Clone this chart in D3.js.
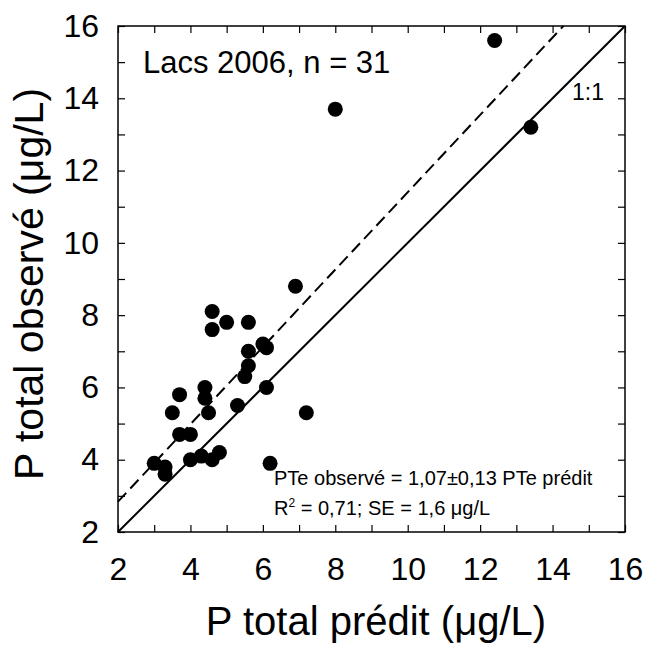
<!DOCTYPE html>
<html><head><meta charset="utf-8">
<script src="https://cdn.jsdelivr.net/npm/d3@7"></script>
<style>
html,body{margin:0;padding:0;background:#fff;}
text{font-family:"Liberation Sans",Arial,Helvetica,sans-serif;fill:#000;}
</style></head>
<body><svg id="chart" width="645" height="646"></svg>
<script>
// Data (P total prédit, P total observé), µg/L
const predicted = [12.4, 8.0, 13.4, 6.9, 4.6, 5.0, 5.6, 4.6, 6.0, 6.1, 5.6, 5.6, 5.5, 4.4, 6.1, 4.4, 3.7, 5.3, 3.5, 4.5, 7.2, 3.7, 4.0, 3.0, 3.3, 3.3, 4.0, 4.3, 4.6, 4.8, 6.2];
const observed  = [15.6, 13.7, 13.2, 8.8, 8.1, 7.8, 7.8, 7.6, 7.2, 7.1, 7.0, 6.6, 6.3, 6.0, 6.0, 5.7, 5.8, 5.5, 5.3, 5.3, 5.3, 4.7, 4.7, 3.9, 3.8, 3.6, 4.0, 4.1, 4.0, 4.2, 3.9];
const axisTicks = [2, 4, 6, 8, 10, 12, 14, 16];
const minorTicks = [2,3,4,5,6,7,8,9,10,11,12,13,14,15,16];
const fitSlope = 1.07, fitIntercept = 0.7;
const titleText = "Lacs 2006, n = 31";
const eqLine1 = "PTe observé = 1,07±0,13 PTe prédit";
const xTitle = "P total prédit (μg/L)";
const yTitle = "P total observé (μg/L)";

const svg = d3.select("#chart");
const L = 118, R = 625, T = 26, B = 532;
const x = d3.scaleLinear().domain([2, 16]).range([L, R]);
const y = d3.scaleLinear().domain([2, 16]).range([B, T]);
const tick = 7;
const fmt = d => axisTicks.includes(d) ? d : "";

function styleAxis(g){
  g.select(".domain").remove();
  g.selectAll(".tick line").attr("stroke", "#000").attr("stroke-width", 1.2);
  g.selectAll("text").style("font-size", "32px").style("font-family", '"Liberation Sans", Arial, sans-serif').attr("fill", "#000");
}
svg.append("g").attr("transform", `translate(0,${B})`)
  .call(d3.axisBottom(x).tickValues(minorTicks).tickFormat(fmt).tickSizeInner(-tick).tickSizeOuter(0).tickPadding(25)).call(styleAxis);
svg.append("g").attr("transform", `translate(0,${T})`)
  .call(d3.axisTop(x).tickValues(minorTicks).tickFormat("").tickSizeInner(-tick).tickSizeOuter(0)).call(styleAxis);
svg.append("g").attr("transform", `translate(${L},0)`)
  .call(d3.axisLeft(y).tickValues(minorTicks).tickFormat(fmt).tickSizeInner(-tick).tickSizeOuter(0).tickPadding(19)).call(styleAxis);
svg.append("g").attr("transform", `translate(${R},0)`)
  .call(d3.axisRight(y).tickValues(minorTicks).tickFormat("").tickSizeInner(-tick).tickSizeOuter(0)).call(styleAxis);

svg.append("rect").attr("x", L).attr("y", T).attr("width", R - L).attr("height", B - T)
  .attr("fill", "none").attr("stroke", "#000").attr("stroke-width", 1.5);

// 1:1 line
svg.append("line").attr("x1", x(2)).attr("y1", y(2)).attr("x2", x(16)).attr("y2", y(16))
  .attr("stroke", "#000").attr("stroke-width", 2);
// regression (dashed)
const xEnd = (16 - fitIntercept) / fitSlope;
svg.append("line").attr("x1", x(2)).attr("y1", y(fitSlope * 2 + fitIntercept))
  .attr("x2", x(xEnd)).attr("y2", y(16))
  .attr("stroke", "#000").attr("stroke-width", 2).attr("stroke-dasharray", "12,6");

// points
svg.append("g").selectAll("circle").data(predicted.map((p, i) => [p, observed[i]])).join("circle")
  .attr("cx", d => x(d[0])).attr("cy", d => y(d[1])).attr("r", 7.5).attr("fill", "#000");

// texts
svg.append("text").attr("x", 143).attr("y", 73).style("font-size", "31px").text(titleText);
svg.append("text").attr("x", 572).attr("y", 100).style("font-size", "23px").text("1:1");
svg.append("text").attr("x", 274).attr("y", 485).style("font-size", "20px").text(eqLine1);
const t2 = svg.append("text").attr("x", 274).attr("y", 515).style("font-size", "20px");
t2.append("tspan").text("R");
t2.append("tspan").attr("dy", -8).style("font-size", "12px").text("2");
t2.append("tspan").attr("dy", 8).text(" = 0,71; SE = 1,6 μg/L");

svg.append("text").attr("x", 376).attr("y", 635).attr("text-anchor", "middle")
  .style("font-size", "40px").text(xTitle);
svg.append("text").attr("transform", `translate(43,284) rotate(-90)`).attr("text-anchor", "middle")
  .style("font-size", "41px").text(yTitle);
</script></body></html>
